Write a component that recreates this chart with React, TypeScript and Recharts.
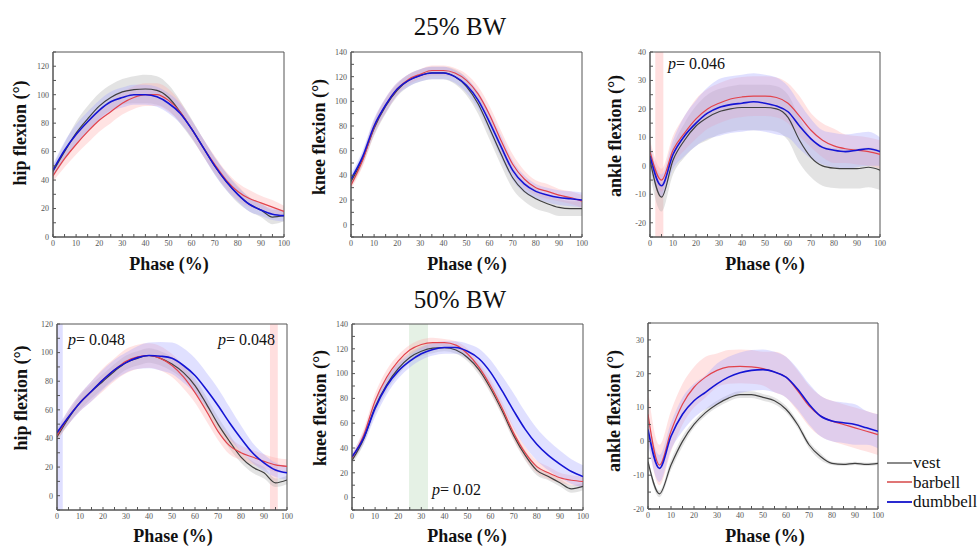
import React from "react";
import { ComposedChart, Area, Line, XAxis, YAxis, ReferenceArea } from "recharts";

// phase of the movement, %
const phase = [0, 5, 10, 15, 20, 25, 30, 35, 40, 45, 50, 55, 60, 65, 70, 75, 80, 85, 90, 95, 100];
const xTicks = [0, 5, 10, 15, 20, 25, 30, 35, 40, 45, 50, 55, 60, 65, 70, 75, 80, 85, 90, 95, 100];

// 25% BW
const hip25Vest = [46, 60, 73, 83, 92, 98, 102, 103.5, 104, 103, 98, 88, 76, 63, 50, 39, 30, 23, 19, 14, 15];
const hip25VestSd = [4, 6, 8, 9, 9, 9, 9, 9.5, 10, 10, 9, 8, 7, 6, 6, 6, 6, 5, 5, 5, 4];
const hip25Barbell = [43, 55, 65, 74, 82, 88, 94, 98, 100, 100, 96, 88, 76, 63, 51, 40, 32, 27, 24, 21, 18];
const hip25BarbellSd = [4, 6, 7, 8, 8, 8, 8, 8, 8, 8, 8, 7, 6, 6, 6, 6, 6, 6, 5, 5, 4];
const hip25Dumbbell = [47, 61, 72, 81, 89, 95, 98, 100, 100, 98.5, 94, 87, 76, 63, 50, 39, 30, 23, 19, 16, 15];
const hip25DumbbellSd = [4, 6, 7, 7, 7, 7, 7, 7, 7, 7, 7, 7, 6, 6, 6, 6, 5, 5, 4, 4, 4];

const knee25Vest = [35, 53, 78, 96, 109, 117, 121, 123, 123, 120, 112, 98, 78, 57, 38, 27, 21, 17, 14, 13, 13];
const knee25VestSd = [4, 5, 6, 6, 5, 5, 5, 5, 5, 6, 7, 8, 9, 9, 9, 8, 8, 7, 7, 6, 6];
const knee25Barbell = [32, 52, 79, 97, 110, 118, 122, 125, 125, 123, 117, 106, 89, 68, 49, 37, 30, 27, 24, 22, 19];
const knee25BarbellSd = [3, 5, 6, 6, 5, 4, 4, 4, 4, 4, 5, 6, 7, 8, 8, 7, 6, 6, 5, 5, 5];
const knee25Dumbbell = [37, 55, 80, 97, 110, 117, 121, 123, 123, 120, 113, 101, 83, 63, 44, 33, 27, 24, 22, 21, 20];
const knee25DumbbellSd = [4, 5, 6, 6, 5, 5, 5, 5, 5, 5, 6, 7, 8, 9, 8, 7, 6, 6, 6, 6, 6];

const ankle25Vest = [2, -11, 2, 9, 14, 17, 19, 20, 20.5, 20.5, 20.5, 20, 17, 9, 3, 0, -0.8, -1, -1, -0.5, -1.5];
const ankle25VestSd = [5, 5, 5, 6, 7, 8, 8, 8, 8, 8, 8, 8, 8, 8, 7, 7, 7, 7, 7, 7, 7];
const ankle25Barbell = [5, -5, 5.5, 11.5, 16.5, 20, 22, 23.5, 24.2, 24.5, 24.5, 24, 22, 17.5, 12.5, 9, 7, 6, 5.5, 5, 4];
const ankle25BarbellSd = [4, 4, 5, 6, 7, 7, 7, 7, 7, 7, 7, 7, 7, 7, 6, 6, 6, 5, 5, 5, 5];
const ankle25Dumbbell = [3.5, -7, 4, 10.5, 15, 18.5, 20.5, 21.5, 22, 22.5, 22, 21, 19, 14, 9.5, 6.5, 5.5, 5, 5.5, 6, 5];
const ankle25DumbbellSd = [4, 4, 5, 7, 8, 9, 10, 10, 10, 10, 10, 10, 9, 8, 7, 6, 6, 6, 6, 6, 5];

// 50% BW
const hip50Vest = [41, 54, 65, 73, 80, 87, 93, 96, 98, 96, 92, 86, 77, 64, 50, 38, 27, 20, 16, 9, 11];
const hip50VestSd = [3, 4, 5, 5, 5, 5, 5, 5, 5, 5, 5, 5, 5, 5, 5, 5, 4, 4, 4, 3, 3];
const hip50Barbell = [42, 55, 65, 73, 81, 88, 94, 97, 98, 96, 91, 83, 72, 59, 45, 35, 30, 27, 24, 21.5, 20.5];
const hip50BarbellSd = [3, 5, 6, 7, 8, 8, 8.5, 8.5, 8.5, 8.5, 8, 8, 7, 7, 6, 6, 5, 5, 5, 5, 5];
const hip50Dumbbell = [44, 55, 65, 73, 81, 88, 93, 96.5, 98, 97.5, 96, 91, 84, 74, 63, 51, 40, 30, 23, 18, 16];
const hip50DumbbellSd = [3, 5, 6, 7, 7, 7, 7, 8, 9, 10, 11, 12, 12, 12, 12, 11, 9, 7, 6, 5, 5];

const knee50Vest = [30, 47, 73, 91, 104, 113, 118, 120.5, 121, 119, 113, 103, 88, 70, 50, 34, 22, 17, 12, 7, 9];
const knee50VestSd = [3, 4, 5, 5, 5, 4, 4, 4, 3, 3, 3, 4, 4, 4, 4, 4, 4, 3, 3, 3, 3];
const knee50Barbell = [32, 50, 78, 97, 110, 119, 123.5, 125, 125, 123, 116, 105, 90, 72, 52, 36, 25, 20, 16, 14, 13];
const knee50BarbellSd = [3, 5, 6, 6, 5, 4, 4, 4, 3, 3, 4, 4, 5, 5, 5, 5, 5, 5, 4, 4, 4];
const knee50Dumbbell = [33, 48, 72, 90, 102, 110, 116, 119.5, 121, 121, 118, 112, 101, 86, 70, 55, 43, 34, 27, 21, 17];
const knee50DumbbellSd = [3, 5, 7, 7, 6, 5, 5, 5, 5, 5, 6, 8, 10, 12, 14, 14, 13, 12, 11, 10, 9];

const ankle50Vest = [-6, -15.5, -7, 0, 5, 8.5, 11, 12.8, 13.8, 13.8, 13, 12, 9.5, 5, -1, -4.5, -6.5, -6.8, -6.5, -6.8, -6.5];
const ankle50VestSd = [1, 1, 1.5, 1.5, 1, 1, 1, 1, 1, 1, 1, 1, 1, 1, 1, 1, 0.5, 0.5, 0.5, 0.5, 0.5];
const ankle50Barbell = [8, -7, 3, 11, 16, 19, 21, 22, 22.2, 22, 21.5, 20.5, 19, 15, 10.5, 7.5, 6, 5, 4, 3, 2];
const ankle50BarbellSd = [7, 6, 6, 6, 6, 6, 5, 5, 5, 5, 5, 6, 6, 6, 6, 6, 6, 6, 6, 6, 6];
const ankle50Dumbbell = [3.5, -8, 1.5, 8, 12, 14.5, 17, 19, 20.3, 21, 21.2, 20.5, 19, 15.5, 11, 7.5, 6, 5.5, 5, 4, 3];
const ankle50DumbbellSd = [4, 4, 4, 5, 5, 5, 6, 6, 6, 6, 6, 6, 6, 6, 6, 6, 6, 6, 6, 5, 5];

const hipTicks25 = [0, 10, 20, 30, 40, 50, 60, 70, 80, 90, 100, 110, 120, 130];
const kneeTicks = [-10, 0, 10, 20, 30, 40, 50, 60, 70, 80, 90, 100, 110, 120, 130, 140];
const ankleTicks25 = [-25, -20, -15, -10, -5, 0, 5, 10, 15, 20, 25, 30, 35, 40];
const hipTicks50 = [-10, 0, 10, 20, 30, 40, 50, 60, 70, 80, 90, 100, 110, 120];
const ankleTicks50 = [-20, -15, -10, -5, 0, 5, 10, 15, 20, 25, 30, 35];

const seriesNames = ["vest", "barbell", "dumbbell"];
const lineColors = { vest: "#404040", barbell: "#e2434c", dumbbell: "#1414d4" };
const bandColors = { vest: "#b0b0b0", barbell: "#ffa8a8", dumbbell: "#a0a0ff" };
const legendColors = { vest: "#8a8a8a", barbell: "#e07575", dumbbell: "#2a2ad0" };

const serif = "'Liberation Serif', 'Times New Roman', serif";

function Panel(props: any) {
  const { left, top, width, height, domain, yTicks, yMajor, series, marks } = props;
  const data = phase.map((x, i) => {
    const row: any = { x };
    seriesNames.forEach((s) => {
      const m = series[s][0][i];
      const sd = series[s][1][i];
      row[s] = m;
      row[s + "Band"] = [m - sd, m + sd];
    });
    return row;
  });
  const tickStyle = { fontSize: 8, fill: "#555", fontFamily: serif };
  return (
    <div style={{ position: "absolute", left: left - 50, top: top - 10 }}>
      <ComposedChart
        width={width + 60}
        height={height + 30}
        data={data}
        margin={{ top: 10, right: 10, bottom: 0, left: 20 }}
      >
        <XAxis
          dataKey="x"
          type="number"
          domain={[0, 100]}
          ticks={xTicks}
          interval={0}
          height={20}
          allowDataOverflow
          tickSize={-3}
          tickMargin={6}
          stroke="#555"
          tick={tickStyle}
          tickFormatter={(v: number) => (v % 10 === 0 ? String(v) : "")}
        />
        <YAxis
          type="number"
          domain={domain}
          ticks={yTicks}
          interval={0}
          width={30}
          allowDataOverflow
          tickSize={-3}
          tickMargin={7}
          stroke="#555"
          tick={tickStyle}
          tickFormatter={(v: number) => (v % yMajor === 0 ? String(v) : "")}
        />
        {marks.map((m: any, i: number) => (
          <ReferenceArea key={i} x1={m.x1} x2={m.x2} fill={m.color} fillOpacity={0.55} stroke="none" />
        ))}
        {seriesNames.map((s) => (
          <Area
            key={s + "Band"}
            dataKey={s + "Band"}
            type="monotone"
            stroke="none"
            fill={(bandColors as any)[s]}
            fillOpacity={s === "vest" ? 0.35 : 0.32}
            isAnimationActive={false}
            activeDot={false}
          />
        ))}
        {seriesNames.map((s) => (
          <Line
            key={s}
            dataKey={s}
            type="monotone"
            stroke={(lineColors as any)[s]}
            strokeWidth={s === "dumbbell" ? 1.6 : 1.2}
            dot={false}
            isAnimationActive={false}
          />
        ))}
        <ReferenceArea x1={0} x2={100} y1={domain[0]} y2={domain[1]} fill="none" stroke="#555" strokeWidth={1} />
      </ComposedChart>
    </div>
  );
}

const abs = (x: number, y: number, style: any = {}): any => ({
  position: "absolute",
  left: x,
  top: y,
  whiteSpace: "nowrap",
  fontFamily: serif,
  color: "#111",
  ...style,
});

function YLabel({ x, y, text }: any) {
  return (
    <div style={abs(x, y, { fontSize: 18, fontWeight: "bold", lineHeight: "18px", transform: "translate(-50%, -50%) rotate(-90deg)" })}>
      {text}
    </div>
  );
}

function XLabel({ x, y }: any) {
  return (
    <div style={abs(x, y, { fontSize: 18, fontWeight: "bold", lineHeight: "18px", transform: "translate(-50%, -50%)" })}>
      Phase (%)
    </div>
  );
}

function PText({ x, y, value }: any) {
  return (
    <div style={abs(x, y, { fontSize: 16, lineHeight: "16px" })}>
      <i>p</i>= {value}
    </div>
  );
}

export default function App() {
  return (
    <div style={{ position: "absolute", left: 0, top: 0, width: 979, height: 547, background: "#fff", overflow: "hidden" }}>
      <div style={abs(460, 26, { fontSize: 25, lineHeight: "25px", transform: "translate(-50%, -50%)" })}>25% BW</div>
      <div style={abs(460, 299, { fontSize: 25, lineHeight: "25px", transform: "translate(-50%, -50%)" })}>50% BW</div>

      <Panel
        left={53} top={52} width={231} height={185}
        domain={[0, 130]} yTicks={hipTicks25} yMajor={20}
        series={{ vest: [hip25Vest, hip25VestSd], barbell: [hip25Barbell, hip25BarbellSd], dumbbell: [hip25Dumbbell, hip25DumbbellSd] }}
        marks={[]}
      />
      <Panel
        left={351} top={52} width={231} height={185}
        domain={[-10, 140]} yTicks={kneeTicks} yMajor={20}
        series={{ vest: [knee25Vest, knee25VestSd], barbell: [knee25Barbell, knee25BarbellSd], dumbbell: [knee25Dumbbell, knee25DumbbellSd] }}
        marks={[]}
      />
      <Panel
        left={650} top={52} width={230} height={185}
        domain={[-25, 40]} yTicks={ankleTicks25} yMajor={10}
        series={{ vest: [ankle25Vest, ankle25VestSd], barbell: [ankle25Barbell, ankle25BarbellSd], dumbbell: [ankle25Dumbbell, ankle25DumbbellSd] }}
        marks={[{ x1: 2.3, x2: 5.8, color: "#ffc4c4" }]}
      />
      <Panel
        left={57} top={324} width={230} height={186}
        domain={[-10, 120]} yTicks={hipTicks50} yMajor={20}
        series={{ vest: [hip50Vest, hip50VestSd], barbell: [hip50Barbell, hip50BarbellSd], dumbbell: [hip50Dumbbell, hip50DumbbellSd] }}
        marks={[{ x1: 0, x2: 2.5, color: "#c4c4ff" }, { x1: 92.6, x2: 96, color: "#ffc4c4" }]}
      />
      <Panel
        left={352} top={324} width={231} height={186}
        domain={[-10, 140]} yTicks={kneeTicks} yMajor={20}
        series={{ vest: [knee50Vest, knee50VestSd], barbell: [knee50Barbell, knee50BarbellSd], dumbbell: [knee50Dumbbell, knee50DumbbellSd] }}
        marks={[{ x1: 24.7, x2: 32.9, color: "#cfe6cf" }]}
      />
      <Panel
        left={648} top={323} width={230} height={186}
        domain={[-20, 35]} yTicks={ankleTicks50} yMajor={10}
        series={{ vest: [ankle50Vest, ankle50VestSd], barbell: [ankle50Barbell, ankle50BarbellSd], dumbbell: [ankle50Dumbbell, ankle50DumbbellSd] }}
        marks={[]}
      />

      <YLabel x={20} y={133} text="hip flexion (°)" />
      <YLabel x={319} y={137} text="knee flexion (°)" />
      <YLabel x={615} y={136} text="ankle flexion (°)" />
      <YLabel x={21} y={398} text="hip flexion (°)" />
      <YLabel x={320} y={408} text="knee flexion (°)" />
      <YLabel x={614} y={411} text="ankle flexion (°)" />

      <XLabel x={169} y={264} />
      <XLabel x={467} y={264} />
      <XLabel x={765} y={264} />
      <XLabel x={173} y={536} />
      <XLabel x={467} y={536} />
      <XLabel x={765} y={536} />

      <PText x={668} y={56} value="0.046" />
      <PText x={68} y={332} value="0.048" />
      <PText x={218} y={332} value="0.048" />
      <PText x={432} y={482} value="0.02" />

      <div style={{ position: "absolute", left: 887, top: 453 }}>
        {seriesNames.map((s) => (
          <div key={s} style={{ display: "flex", alignItems: "center", height: 19.5 }}>
            <div style={{ width: 25, height: 2, background: (legendColors as any)[s] }} />
            <span style={{ fontFamily: serif, fontSize: 17, marginLeft: 1, color: "#111", lineHeight: "17px" }}>{s}</span>
          </div>
        ))}
      </div>
    </div>
  );
}
